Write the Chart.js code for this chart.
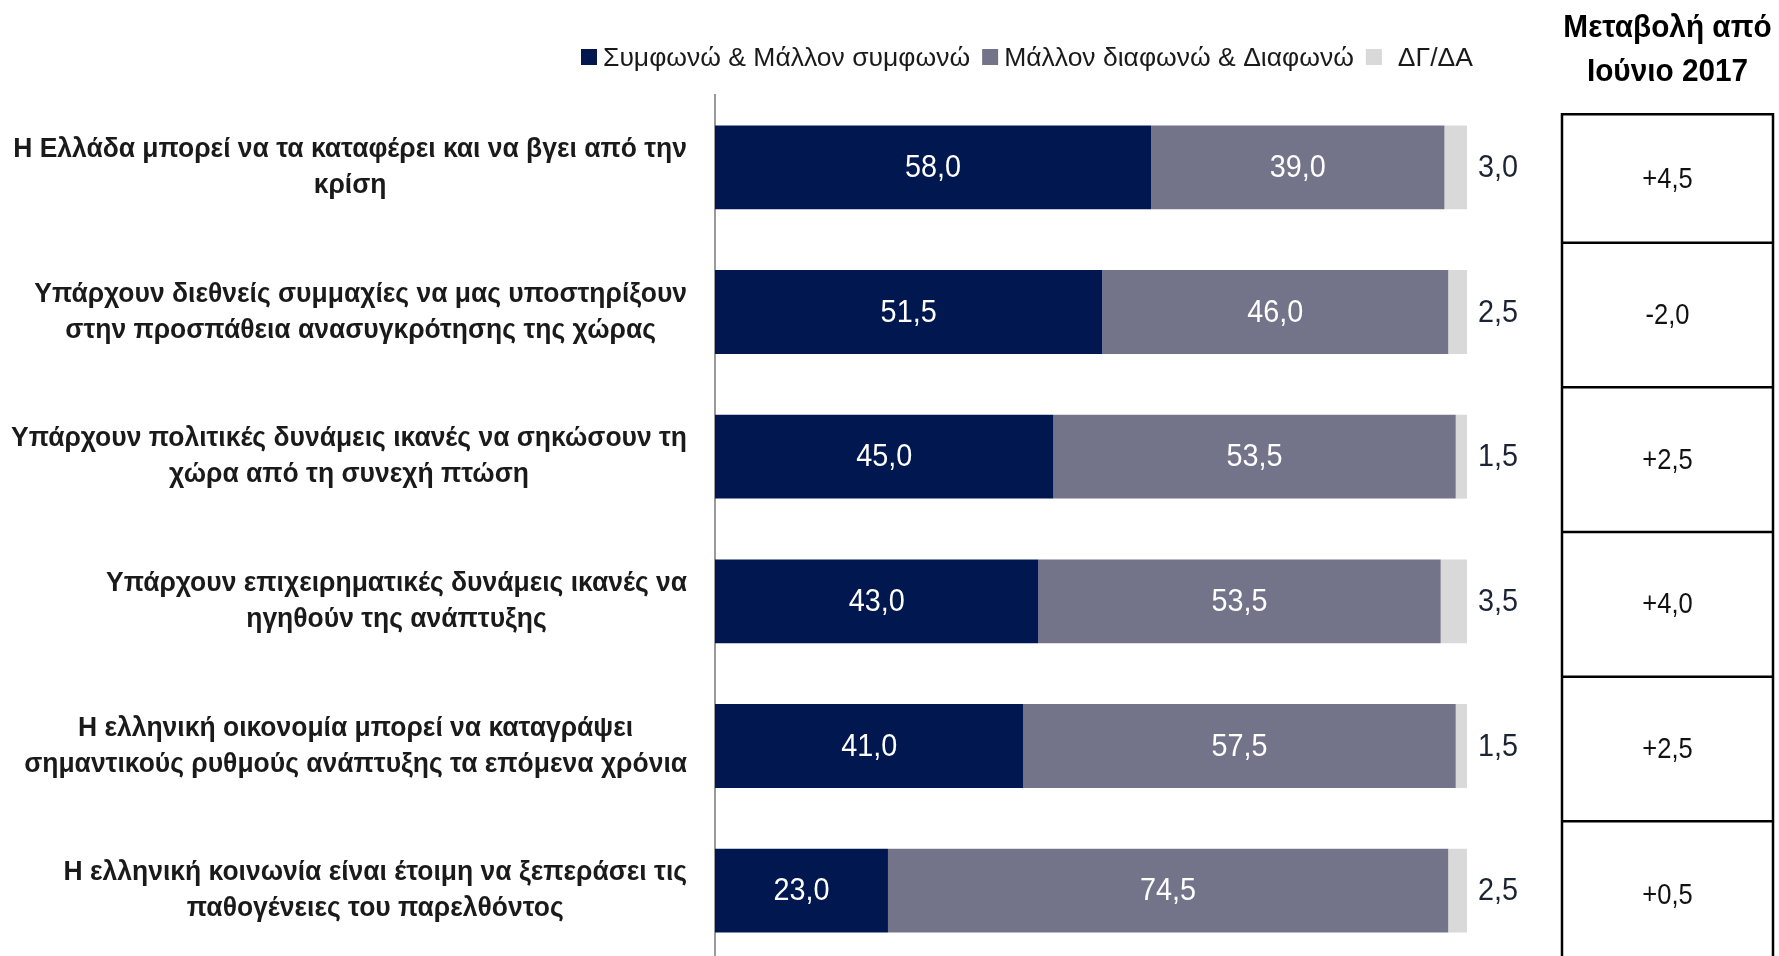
<!DOCTYPE html>
<html><head><meta charset="utf-8">
<script src="https://cdn.jsdelivr.net/npm/chart.js@4.4.1/dist/chart.umd.min.js"></script>
<style>
html,body{margin:0;padding:0;background:#fff;overflow:hidden;width:1779px;height:956px}
#wrap{position:absolute;left:0;top:0;width:1779px;height:963px}
</style>
</head><body><div id="wrap"><canvas id="c" width="1779" height="963"></canvas></div>
<script>
const categories = [
  ['Η Ελλάδα μπορεί να τα καταφέρει και να βγει από την', 'κρίση'],
  ['Υπάρχουν διεθνείς συμμαχίες να μας υποστηρίξουν', 'στην προσπάθεια ανασυγκρότησης της χώρας'],
  ['Υπάρχουν πολιτικές δυνάμεις ικανές να σηκώσουν τη', 'χώρα από τη συνεχή πτώση'],
  ['Υπάρχουν επιχειρηματικές δυνάμεις ικανές να', 'ηγηθούν της ανάπτυξης'],
  ['Η ελληνική οικονομία μπορεί να καταγράψει', 'σημαντικούς ρυθμούς ανάπτυξης τα επόμενα χρόνια'],
  ['Η ελληνική κοινωνία είναι έτοιμη να ξεπεράσει τις', 'παθογένειες του παρελθόντος']
];
const seriesNames = ['Συμφωνώ & Μάλλον συμφωνώ', 'Μάλλον διαφωνώ & Διαφωνώ', 'ΔΓ/ΔΑ'];
const agree    = [58.0, 51.5, 45.0, 43.0, 41.0, 23.0];
const disagree = [39.0, 46.0, 53.5, 53.5, 57.5, 74.5];
const dkna     = [3.0, 2.5, 1.5, 3.5, 1.5, 2.5];
const changeTitle = ['Μεταβολή από', 'Ιούνιο 2017'];
const changeSinceJune2017 = [4.5, -2.0, 2.5, 4.0, 2.5, 0.5];

const FONT = "'Liberation Sans', Arial, sans-serif";
const colors = ['#00184F', '#737489', '#D9D9D9'];
const fmt = v => v.toFixed(1).replace('.', ',');
const fmtSigned = v => (v > 0 ? '+' : '') + fmt(v);

// draw text squeezed horizontally (the original uses a condensed face)
function narrowText(ctx, text, x, y, align, sx) {
  ctx.save();
  ctx.translate(x, y);
  ctx.scale(sx, 1);
  ctx.textAlign = align;
  ctx.fillText(text, 0, 0);
  ctx.restore();
}

const labelPlugin = {
  id: 'barLabels',
  afterDatasetsDraw(chart) {
    const ctx = chart.ctx;
    ctx.save();
    ctx.textBaseline = 'middle';
    ctx.font = '32px ' + FONT;
    chart.data.datasets.forEach((ds, di) => {
      const meta = chart.getDatasetMeta(di);
      meta.data.forEach((bar, i) => {
        const v = ds.data[i];
        if (di < 2) {
          ctx.fillStyle = '#ffffff';
          narrowText(ctx, fmt(v), (bar.x + bar.base) / 2, bar.y + 1, 'center', 0.9);
        } else {
          ctx.fillStyle = '#1c2333';
          narrowText(ctx, fmt(v), bar.x + 11, bar.y + 1, 'left', 0.9);
        }
      });
    });
    ctx.restore();
  }
};

const legendPlugin = {
  id: 'customLegend',
  afterDraw(chart) {
    const ctx = chart.ctx;
    ctx.save();
    ctx.font = '26.5px ' + FONT;
    ctx.textBaseline = 'middle';
    ctx.textAlign = 'left';
    let x = 581;
    const y = 57;
    chart.data.datasets.forEach((ds, di) => {
      ctx.fillStyle = ds.backgroundColor;
      ctx.fillRect(x, y - 8, 16, 16);
      x += di === 2 ? 32 : 22;
      ctx.fillStyle = '#1a1a1a';
      ctx.fillText(ds.label, x, y + 2);
      x += ctx.measureText(ds.label).width + 12;
    });
    ctx.restore();
  }
};

// Tick labels: each label block right-aligned at the axis side,
// lines centred within the block, squeezed like a condensed face.
const narrowTicksPlugin = {
  id: 'narrowTicks',
  afterUpdate(chart) {
    const sc = chart.scales.y;
    if (sc._narrowed) return;
    const orig = sc.drawLabels.bind(sc);
    sc._computeLabelArea = () => undefined;
    sc.drawLabels = function (area) {
      const ctx = this.ctx;
      const items = this.getLabelItems(area);
      if (!items.length) return orig(area);
      ctx.save();
      ctx.font = items[0].font.string;
      let widest = 0;
      const widths = items.map(it => {
        let w = 0;
        [].concat(it.label).forEach(l => { w = Math.max(w, ctx.measureText(l).width); });
        widest = Math.max(widest, w);
        return w;
      });
      ctx.restore();
      const s = 676 / widest;
      items.forEach((it, i) => {
        it.options.translation[0] = -widths[i] / 2;
        it.options.textAlign = 'center';
      });
      ctx.save();
      ctx.translate(687, 0);
      ctx.scale(s, 1);
      orig(area);
      ctx.restore();
    };
    sc._narrowed = true;
  }
};

const tablePlugin = {
  id: 'changeTable',
  afterDraw(chart) {
    const ctx = chart.ctx;
    const ys = chart.scales.y;
    const left = 1562, right = 1773, cx = (left + right) / 2;
    ctx.save();
    ctx.fillStyle = '#000';
    ctx.textBaseline = 'middle';
    ctx.font = 'bold 32px ' + FONT;
    narrowText(ctx, changeTitle[0], cx, 28, 'center', 0.93);
    narrowText(ctx, changeTitle[1], cx, 72, 'center', 0.93);
    const n = changeSinceJune2017.length;
    const bounds = [ys.getPixelForValue(0) - 53];
    for (let i = 0; i < n - 1; i++) {
      bounds.push((ys.getPixelForValue(i) + ys.getPixelForValue(i + 1)) / 2 + 3);
    }
    bounds.push(chart.height + 10);
    ctx.strokeStyle = '#000';
    ctx.lineWidth = 2.5;
    ctx.beginPath();
    ctx.moveTo(left, bounds[n]);
    ctx.lineTo(left, bounds[0]);
    ctx.lineTo(right, bounds[0]);
    ctx.lineTo(right, bounds[n]);
    for (let i = 1; i < n; i++) {
      ctx.moveTo(left, bounds[i]);
      ctx.lineTo(right, bounds[i]);
    }
    ctx.stroke();
    ctx.font = '29px ' + FONT;
    ctx.fillStyle = '#111';
    for (let i = 0; i < n; i++) {
      const yc = i === n - 1 ? ys.getPixelForValue(i) + 4 : (bounds[i] + bounds[i + 1]) / 2;
      narrowText(ctx, fmtSigned(changeSinceJune2017[i]), cx, yc + 1, 'center', 0.88);
    }
    ctx.restore();
  }
};

new Chart(document.getElementById('c'), {
  type: 'bar',
  data: {
    labels: categories,
    datasets: [
      { label: seriesNames[0], data: agree, backgroundColor: colors[0] },
      { label: seriesNames[1], data: disagree, backgroundColor: colors[1] },
      { label: seriesNames[2], data: dkna, backgroundColor: colors[2] }
    ]
  },
  options: {
    indexAxis: 'y',
    responsive: false,
    animation: false,
    devicePixelRatio: 1,
    layout: { padding: { top: 95, right: 312, left: 0, bottom: 0 } },
    datasets: { bar: { categoryPercentage: 1, barPercentage: 0.58, borderWidth: 0 } },
    plugins: { legend: { display: false }, tooltip: { enabled: false } },
    scales: {
      x: { stacked: true, min: 0, max: 100, display: false },
      y: {
        stacked: true,
        grid: { display: false },
        border: { display: true, color: '#9a9a9a', width: 2 },
        afterFit(scale) { scale.width = 715; scale.paddingTop = 0; scale.paddingBottom = 0; },
        ticks: {
          crossAlign: 'center',
          padding: 20,
          color: '#1a1a1a',
          font: { family: FONT, size: 28, weight: 'bold', lineHeight: 1.29 }
        }
      }
    }
  },
  plugins: [narrowTicksPlugin, labelPlugin, legendPlugin, tablePlugin]
});
</script>
</body></html>
